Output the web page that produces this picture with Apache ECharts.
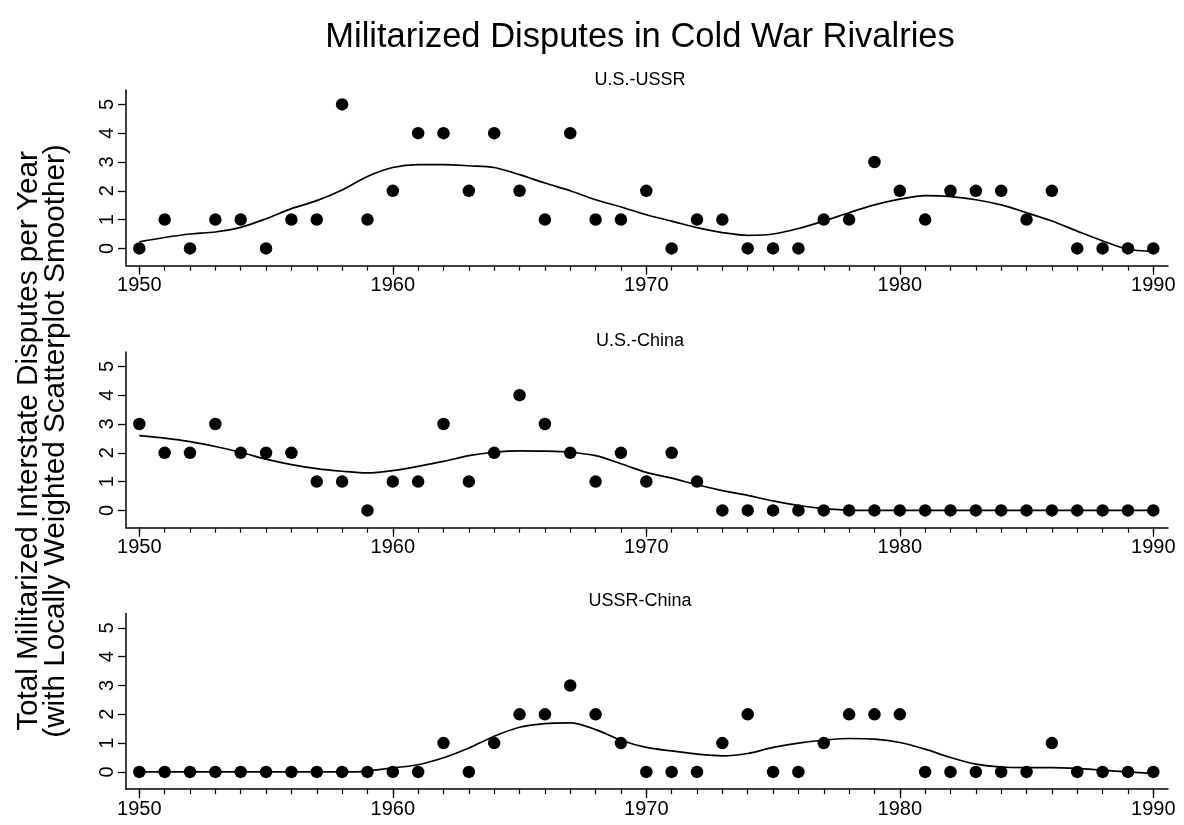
<!DOCTYPE html>
<html><head><meta charset="utf-8">
<script src="https://cdn.jsdelivr.net/npm/echarts@6/dist/echarts.min.js"></script>
<style>html,body{margin:0;padding:0;background:#fff}#c{width:1184px;height:825px}</style>
</head><body><div id="c"></div>
<script>
const years = [1950,1951,1952,1953,1954,1955,1956,1957,1958,1959,1960,1961,1962,1963,1964,1965,1966,1967,1968,1969,1970,1971,1972,1973,1974,1975,1976,1977,1978,1979,1980,1981,1982,1983,1984,1985,1986,1987,1988,1989,1990];
const panelTitles = ['U.S.-USSR', 'U.S.-China', 'USSR-China'];
const usUssr = [0,1,0,1,1,0,1,1,5,1,2,4,4,2,4,2,1,4,1,1,2,0,1,1,0,0,0,1,1,3,2,1,2,2,2,1,2,0,0,0,0];
const usUssrSmooth = [0.23,0.38,0.5,0.57,0.73,1.03,1.38,1.66,2.03,2.5,2.81,2.91,2.91,2.87,2.81,2.56,2.27,2.0,1.69,1.44,1.17,0.95,0.72,0.55,0.45,0.5,0.69,0.95,1.24,1.51,1.71,1.83,1.8,1.69,1.51,1.24,0.95,0.6,0.26,-0.03,-0.1];
const usChina = [3,2,2,3,2,2,2,1,1,0,1,1,3,1,2,4,3,2,1,2,1,2,1,0,0,0,0,0,0,0,0,0,0,0,0,0,0,0,0,0,0];
const usChinaSmooth = [2.6,2.51,2.39,2.22,2.02,1.78,1.59,1.45,1.36,1.3,1.38,1.53,1.7,1.9,2.02,2.07,2.06,2.02,1.9,1.62,1.32,1.12,0.89,0.69,0.52,0.33,0.17,0.06,0.01,0,0,0,0,0,0,0,0,0,0,0,0];
const ussrChina = [0,0,0,0,0,0,0,0,0,0,0,0,1,0,1,2,2,3,2,1,0,0,0,1,2,0,0,1,2,2,2,0,0,0,0,0,1,0,0,0,0];
const ussrChinaSmooth = [0,0,0,0,0,0,0,0,0,0.03,0.14,0.25,0.49,0.83,1.24,1.55,1.68,1.7,1.47,1.1,0.85,0.73,0.62,0.56,0.64,0.85,1.0,1.1,1.16,1.14,1.02,0.79,0.5,0.27,0.17,0.15,0.15,0.12,0.06,0,-0.05];
const xTickLabels = [1950,1960,1970,1980,1990];
const yTickLabels = [0,1,2,3,4,5];
const mainTitle = 'Militarized Disputes in Cold War Rivalries';
const yTitle1 = 'Total Militarized Interstate Disputes per Year';
const yTitle2 = '(with Locally Weighted Scatterplot Smoother)';

const FONT = "'Liberation Sans', Arial, Helvetica, sans-serif";
const panels = [
  {pts: usUssr, sm: usUssrSmooth},
  {pts: usChina, sm: usChinaSmooth},
  {pts: ussrChina, sm: ussrChinaSmooth}
];
const tops = [90, 352, 613.5];
const subY = [80, 341, 601];
const H = 175.7;
const XMIN = 1949.475, XMAX = 1990.58;

const grid = [], xAxis = [], yAxis = [], series = [], graphic = [];
panels.forEach((p, i) => {
  grid.push({left: 126, right: 16, top: tops[i], height: H});
  xAxis.push({
    type: 'value', gridIndex: i, min: XMIN, max: XMAX,
    axisLine: {show: true, onZero: false, lineStyle: {color: '#000', width: 1.5}},
    axisTick: {show: true, customValues: xTickLabels, length: 9, lineStyle: {color: '#000', width: 1.3}},
    axisLabel: {show: true, customValues: xTickLabels, margin: 10, color: '#000', fontSize: 20, fontFamily: FONT, formatter: v => String(v)},
    splitLine: {show: false}
  });
  xAxis.push({
    type: 'value', gridIndex: i, min: XMIN, max: XMAX, position: 'bottom',
    axisLine: {show: false, onZero: false},
    axisTick: {show: true, customValues: years, length: 5, lineStyle: {color: '#000', width: 1.2}},
    axisLabel: {show: false},
    splitLine: {show: false}
  });
  yAxis.push({
    type: 'value', gridIndex: i, min: -0.6, max: 5.5,
    axisLine: {show: true, onZero: false, lineStyle: {color: '#000', width: 1.5}},
    axisTick: {show: true, customValues: yTickLabels, length: 8, lineStyle: {color: '#000', width: 1.3}},
    axisLabel: {show: true, customValues: yTickLabels, rotate: 90, margin: 9, color: '#000', fontSize: 20, fontFamily: FONT},
    splitLine: {show: false}
  });
  series.push({
    type: 'line', xAxisIndex: 2 * i, yAxisIndex: i,
    data: years.map((y, k) => [y, p.sm[k]]),
    smooth: 0.3, showSymbol: false, silent: true,
    lineStyle: {color: '#000', width: 1.7}, z: 2
  });
  series.push({
    type: 'scatter', xAxisIndex: 2 * i, yAxisIndex: i,
    data: years.map((y, k) => [y, p.pts[k]]),
    symbol: 'circle', symbolSize: 12.5,
    itemStyle: {color: '#000', opacity: 1}, z: 3
  });
  graphic.push({
    type: 'text', x: 640, y: subY[i],
    style: {text: panelTitles[i], font: '18px ' + FONT, fill: '#000', textAlign: 'center', textVerticalAlign: 'middle'}
  });
});
graphic.push({
  type: 'text', x: 640, y: 37,
  style: {text: mainTitle, font: '34.5px ' + FONT, fill: '#000', textAlign: 'center', textVerticalAlign: 'middle'}
});
graphic.push({
  type: 'text', x: 29, y: 441, rotation: Math.PI / 2,
  style: {text: yTitle1, font: '29.7px ' + FONT, fill: '#000', textAlign: 'center', textVerticalAlign: 'middle'}
});
graphic.push({
  type: 'text', x: 56, y: 441, rotation: Math.PI / 2,
  style: {text: yTitle2, font: '29.7px ' + FONT, fill: '#000', textAlign: 'center', textVerticalAlign: 'middle'}
});

const chart = echarts.init(document.getElementById('c'), null, {renderer: 'canvas'});
chart.setOption({
  backgroundColor: '#fff',
  animation: false,
  grid, xAxis, yAxis, series, graphic
});
</script>
</body></html>
